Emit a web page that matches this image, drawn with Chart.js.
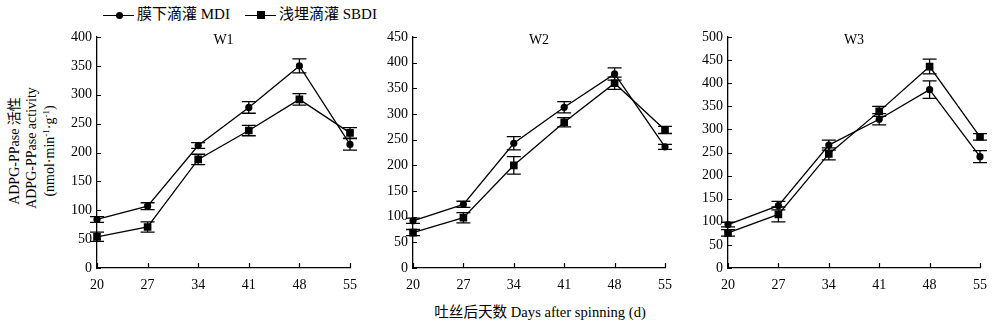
<!DOCTYPE html>
<html>
<head>
<meta charset="utf-8">
<script src="https://cdn.jsdelivr.net/npm/chart.js@4.4.1/dist/chart.umd.min.js"></script>
<style>
  html, body { margin: 0; padding: 0; background: #fff; }
  body { width: 1000px; height: 328px; position: relative; overflow: hidden;
         font-family: "Liberation Serif", "Noto Sans CJK SC", serif; color: #000; }
  canvas { position: absolute; top: 0; }
  .txt { position: absolute; font-size: 15px; line-height: 15px; white-space: nowrap; }
  .ytitle { position: absolute; font-size: 14px; line-height: 14px; white-space: nowrap;
            transform: translate(-50%, -50%) rotate(-90deg); }
  .lg-line { position: absolute; height: 1.4px; background: #000; width: 31px; }
  .lg-dot { position: absolute; width: 7px; height: 7px; border-radius: 50%; background: #000; }
  .lg-sq { position: absolute; width: 8px; height: 8px; background: #000; }
</style>
</head>
<body>
<!-- legend -->
<div class="lg-line" style="left:103px; top:14.5px;"></div>
<div class="lg-dot" style="left:115.5px; top:11.5px;"></div>
<div class="txt" style="left:137px; top:7px;">膜下滴灌 MDI</div>
<div class="lg-line" style="left:245px; top:14.5px;"></div>
<div class="lg-sq" style="left:257px; top:11px;"></div>
<div class="txt" style="left:279px; top:7px;">浅埋滴灌 SBDI</div>

<!-- y-axis title -->
<div class="ytitle" style="left:15px; top:151px;">ADPG-PPase 活性</div>
<div class="ytitle" style="left:32px; top:148px;">ADPG-PPase activity</div>
<div class="ytitle" style="left:48px; top:151px;">(nmol·min<sup style="font-size:9px">-1</sup>·g<sup style="font-size:9px">-1</sup>)</div>

<!-- x-axis title -->
<div class="txt" style="left:540px; top:305px; font-size:14.6px; transform:translateX(-50%);">吐丝后天数 Days after spinning (d)</div>

<canvas id="c1" width="310" height="300" style="left:57px;"></canvas>
<canvas id="c2" width="310" height="300" style="left:373px;"></canvas>
<canvas id="c3" width="310" height="300" style="left:688px;"></canvas>

<script>
// Sampling days after spinning
const categories = ['20', '27', '34', '41', '48', '55'];

// W1
const w1Mdi = [84, 107, 212, 278, 350, 214];
const w1MdiErr = [5, 6, 5, 10, 12, 10];
const w1Sbdi = [54, 71, 188, 238, 292, 234];
const w1SbdiErr = [8, 9, 9, 9, 10, 9];

// W2
const w2Mdi = [92, 124, 243, 313, 378, 236];
const w2MdiErr = [5, 6, 13, 11, 12, 5];
const w2Sbdi = [69, 98, 200, 284, 360, 269];
const w2SbdiErr = [6, 10, 17, 9, 12, 7];

// W3
const w3Mdi = [94, 135, 266, 322, 386, 241];
const w3MdiErr = [5, 9, 11, 12, 19, 13];
const w3Sbdi = [76, 116, 247, 339, 436, 284];
const w3SbdiErr = [7, 16, 13, 11, 16, 7];

const panelTitles = ['W1', 'W2', 'W3'];
const yMax = [400, 450, 500];
const yStep = 50;

const FONT = { family: '"Liberation Serif", "Noto Sans CJK SC", serif', size: 14 };

// vertical error bars with caps, in data units
const errorBars = {
  id: 'errorBars',
  afterDatasetsDraw(chart) {
    const ctx = chart.ctx;
    const ys = chart.scales.y;
    ctx.save();
    ctx.strokeStyle = '#000';
    ctx.lineWidth = 1.3;
    chart.data.datasets.forEach((ds, i) => {
      const meta = chart.getDatasetMeta(i);
      meta.data.forEach((pt, j) => {
        const v = ds.data[j], e = ds.errors[j];
        const top = ys.getPixelForValue(v + e);
        const bot = ys.getPixelForValue(v - e);
        ctx.beginPath();
        ctx.moveTo(pt.x, top); ctx.lineTo(pt.x, bot);
        ctx.moveTo(pt.x - 7, top); ctx.lineTo(pt.x + 7, top);
        ctx.moveTo(pt.x - 7, bot); ctx.lineTo(pt.x + 7, bot);
        ctx.stroke();
      });
    });
    ctx.restore();
  }
};

// short inward tick marks and the panel label
const axisDecor = {
  id: 'axisDecor',
  afterDraw(chart, args, opts) {
    const ctx = chart.ctx;
    const a = chart.chartArea;
    const xs = chart.scales.x, ys = chart.scales.y;
    ctx.save();
    ctx.strokeStyle = '#000';
    ctx.lineWidth = 1.2;
    ctx.beginPath();
    ys.ticks.forEach(t => {
      const y = Math.round(ys.getPixelForValue(t.value)) + 0.5;
      ctx.moveTo(a.left, y); ctx.lineTo(a.left + 4, y);
    });
    xs.ticks.forEach((t, i) => {
      const x = Math.round(xs.getPixelForValue(i)) + 0.5;
      ctx.moveTo(x, a.bottom); ctx.lineTo(x, a.bottom - 5);
    });
    ctx.stroke();
    ctx.fillStyle = '#000';
    ctx.font = '14px ' + FONT.family;
    ctx.textAlign = 'center';
    ctx.textBaseline = 'middle';
    ctx.fillText(opts.text, (a.left + a.right) / 2, a.top + 3);
    ctx.restore();
  }
};

function makeChart(id, title, max, mdi, mdiErr, sbdi, sbdiErr, rightPad) {
  const line = { borderColor: '#000', borderWidth: 1.3, backgroundColor: '#000',
                 pointBackgroundColor: '#000', pointBorderColor: '#000', pointBorderWidth: 0,
                 tension: 0, fill: false };
  return new Chart(document.getElementById(id), {
    type: 'line',
    data: {
      labels: categories,
      datasets: [
        Object.assign({ label: '膜下滴灌 MDI', data: mdi, errors: mdiErr,
                        pointStyle: 'circle', pointRadius: 3.6 }, line),
        Object.assign({ label: '浅埋滴灌 SBDI', data: sbdi, errors: sbdiErr,
                        pointStyle: 'rect', pointRadius: 5.4 }, line)
      ]
    },
    options: {
      responsive: false,
      animation: false,
      devicePixelRatio: 1,
      layout: { padding: { top: 37, right: rightPad, left: 0, bottom: 0 } },
      plugins: {
        legend: { display: false },
        tooltip: { enabled: false },
        axisDecor: { text: title }
      },
      scales: {
        x: {
          type: 'category',
          offset: false,
          grid: { display: false, drawTicks: false },
          border: { display: true, color: '#000', width: 1.3 },
          ticks: { color: '#000', font: FONT, padding: 9, maxRotation: 0, autoSkip: false },
          afterFit(s) { s.height = 32; }
        },
        y: {
          min: 0, max: max,
          grid: { display: false, drawTicks: false },
          border: { display: true, color: '#000', width: 1.3 },
          ticks: { stepSize: yStep, color: '#000', font: FONT, padding: 5 },
          afterFit(s) { s.width = 40; }
        }
      }
    },
    plugins: [errorBars, axisDecor]
  });
}

makeChart('c1', panelTitles[0], yMax[0], w1Mdi, w1MdiErr, w1Sbdi, w1SbdiErr, 17);
makeChart('c2', panelTitles[1], yMax[1], w2Mdi, w2MdiErr, w2Sbdi, w2SbdiErr, 18);
makeChart('c3', panelTitles[2], yMax[2], w3Mdi, w3MdiErr, w3Sbdi, w3SbdiErr, 18);
</script>
</body>
</html>
